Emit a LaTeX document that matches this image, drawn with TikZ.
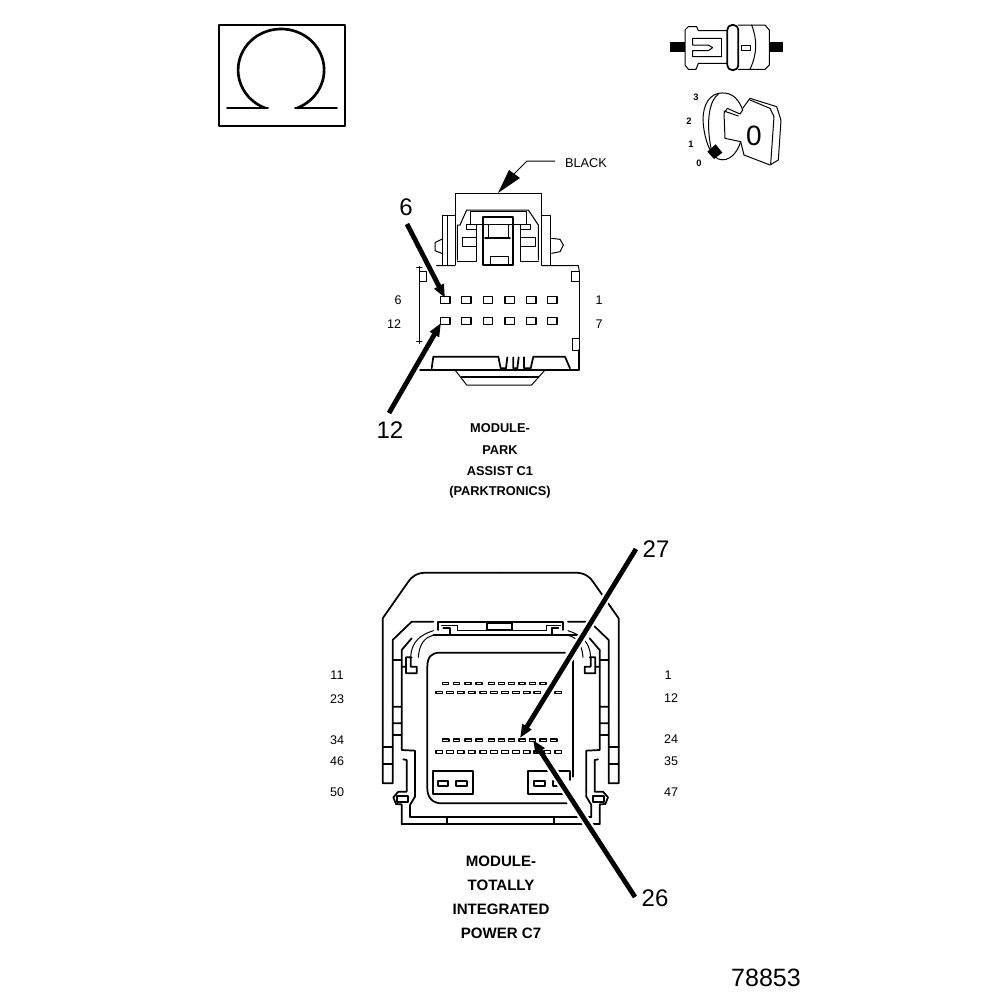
\documentclass[tikz,border=0pt]{standalone}
\usepackage{fontspec}
\setmainfont{Liberation Sans}
\usetikzlibrary{arrows.meta}
\tikzset{
 thinline/.style={line width=0.75pt},
 medline/.style={line width=1.3pt},
 thickline/.style={line width=2pt},
 lab/.style={inner sep=0pt,font=\fontsize{9.4}{11}\selectfont},
 biglab/.style={inner sep=0pt,font=\fontsize{18}{20}\selectfont},
 caplab/.style={inner sep=0pt,font=\fontsize{9.6}{11}\selectfont\bfseries},
 caplabb/.style={inner sep=0pt,font=\fontsize{11.3}{13}\selectfont\bfseries},
 tinylab/.style={inner sep=0pt,font=\fontsize{7}{8}\selectfont\bfseries},
 halo/.style={draw=white,line width=7pt,shorten >=14pt},
 pointer/.style={draw=black,line width=3.6pt,-{Triangle[length=10pt,width=7.5pt]}},
 pinbox/.style={draw=black,line width=1.1pt,fill=white},
 roundframe/.style={line cap=round,line join=round},
}
\begin{document}
\begin{tikzpicture}[x=0.75pt,y=-0.75pt]
\useasboundingbox (0,0) rectangle (1008,1000);

% ---------- Omega box
\begin{scope}[roundframe]
\draw[medline] (219,25) rectangle (345,126);
\draw[thickline] (265,108) arc[start angle=112,end angle=428,x radius=43,y radius=41];
\draw[medline] (227,108) -- (268,108) (295,108) -- (337,108);
\end{scope}

% ---------- Switch (zoom coordinates)
\begin{scope}[shift={(650,10)},x=.25pt,y=-.25pt,roundframe]
\fill (60,97) rectangle (105,127);
\fill (358,97) rectangle (400,127);
\draw[thinline] (232,62)--(145,62)--(140,50)--(115,50)--(105,60)--(105,165)--(115,178)--(138,178)--(145,160)--(232,160);
\draw[thinline] (215,85)--(128,85)--(128,105)--(175,105)--(188,113)--(175,122)--(128,122)--(128,140)--(215,140);
\draw[thinline] (215,85)--(215,140);
\draw[medline,rounded corners=3.5pt] (232,45) rectangle (265,180);
\draw[thinline] (265,45)--(345,45)--(358,60)--(358,165)--(345,178)--(265,178);
\draw[thinline] (305,45) .. controls (322,90) and (322,130) .. (300,178);
\draw[thinline] (275,105) rectangle (300,120);
% knob
\draw[thinline] (278,300) .. controls (262,255) and (235,245) .. (205,250) .. controls (170,258) and (155,300) .. (160,345) .. controls (165,390) and (180,435) .. (205,447) .. controls (235,458) and (262,430) .. (272,395);
\draw[thinline] (205,252) .. controls (180,270) and (165,330) .. (185,425);
\draw[thinline] (278,300)--(270,312)--(232,295)--(222,310)--(225,385)--(272,395);
\draw[thinline] (222,303)--(265,318);
\draw[thinline] (272,395)--(282,435)--(360,465)--(385,450)--(393,330)--(380,290)--(300,265)--(278,295);
\draw[thinline] (300,270)--(360,295)--(372,320)--(362,462);
\fill (172,425)--(197,403)--(217,428)--(192,447)--cycle;
\end{scope}
\node[inner sep=0pt,font=\fontsize{21}{22}\selectfont] (zeroBig) at (754,136) {0};
\node[tinylab] (k3) at (696,97) {3};
\node[tinylab] (k2) at (689,121) {2};
\node[tinylab] (k1) at (691,144) {1};
\node[tinylab] (k0) at (699,163) {0};

% ---------- Connector C1 (zoom coordinates)
\begin{scope}[shift={(370,150)},x=.25pt,y=-.25pt,roundframe]
\draw[thinline] (255,345)--(255,130)--(515,130)--(515,345);
\draw[thinline] (262,330)--(262,225)--(270,225)--(290,180)--(475,180)--(505,225)--(505,330);
\draw[thinline] (300,185) rectangle (470,222);
\draw[medline] (340,200) rectangle (430,345);
\draw[thinline] (355,222) rectangle (415,265);
\draw[medline] (345,265)--(420,265);
\draw[thinline] (360,345)--(360,320)--(415,320)--(415,345);
\draw[thinline] (290,222) rectangle (318,238);
\draw[thinline] (452,222) rectangle (482,238);
\draw[thinline] (278,262) rectangle (318,290);
\draw[thinline] (452,262) rectangle (495,290);
\draw[thinline] (318,238)--(318,335)--(262,335);
\draw[thinline] (452,238)--(452,335)--(505,335);
\draw[thinline] (232,345)--(232,197)--(255,197);
\draw[thinline] (218,345)--(218,197)--(232,197);
\draw[thinline] (517,197)--(540,197)--(540,345);
\draw[thinline] (215,268)--(195,278)--(195,302)--(215,310);
\draw[thinline] (545,265)--(570,268)--(580,285)--(570,305)--(545,310);
\draw[thinline] (200,347)--(255,347) (515,347)--(625,347)--(628,365);
\draw[thinline] (605,365) rectangle (628,395);
\draw[thinline] (628,395)--(628,565);
\draw[thinline] (608,565) rectangle (628,600);
\draw[medline] (628,600)--(628,660)--(150,660);
\draw[thinline] (148,350)--(148,580);
\draw[thinline] (140,352)--(156,352) (140,575)--(156,575);
\draw[thinline] (148,395)--(170,395)--(170,365)--(148,365);
\draw[medline] (185,655)--(190,620)--(385,620)--(392,655)--(408,655)--(412,622);
\draw[medline] (430,622)--(430,655)--(442,655)--(446,622);
\draw[medline] (462,622)--(462,655)--(482,655)--(490,620)--(585,620)--(600,655);
\draw[thinline] (255,660)--(290,705)--(485,705)--(525,660);
\draw[medline] (275,680)--(505,680);
\foreach \p in {212,275,340,405,470,533}{
 \draw[pinbox,line width=1pt] (\p,440) rectangle +(28,20);
 \draw[pinbox,line width=1pt] (\p,503) rectangle +(28,21);
}
\end{scope}
\node[biglab] (c1six) at (406,207) {6};
\node[biglab] (c1twelve) at (390,430) {12};
\node[lab] (l6) at (398,300) {6};
\node[lab] (l12) at (394,324) {12};
\node[lab] (l1) at (599,300) {1};
\node[lab] (l7) at (599,324) {7};
\node[lab,font=\fontsize{9.6}{11}\selectfont] (black) at (586,163) {BLACK};
\node[caplab] (a1) at (500,428) {MODULE-};
\node[caplab] (a2) at (500,450) {PARK};
\node[caplab] (a3) at (500,471) {ASSIST C1};
\node[caplab] (a4) at (500,492) {(PARKTRONICS)};

% ---------- Connector C7 (zoom coordinates)
\begin{scope}[shift={(370,560)},x=.25pt,y=-.25pt,roundframe]
\foreach \m in {0,1}{
\begin{scope}[xshift={\m*196pt},xscale={1-2*\m}]
\draw[medline] (392,38)--(170,38) .. controls (140,38) and (125,50) .. (115,65)--(38,175)--(38,670)--(68,670)--(68,240)--(125,185)--(190,185);
\draw[medline] (38,560)--(68,560);
\draw[medline] (68,612)--(38,612);
\draw[medline] (95,270)--(95,570)--(135,572)--(135,695) (68,440)--(95,440) (68,490)--(95,490) (68,525)--(95,525) (68,300)--(95,300);
\draw[medline] (95,270)--(125,235) (95,320)--(108,320)--(108,292)--(125,292) (108,320)--(108,340)--(140,340)--(140,320)--(122,320)--(122,292);
\draw[thinline] (122,290) .. controls (125,245) and (150,225) .. (190,212);
\draw[thinline] (145,292) .. controls (148,250) and (165,232) .. (190,226);
\draw[medline] (100,598)--(110,600)--(110,695)--(85,695)--(70,712)--(78,732)--(95,733)--(95,792);
\draw[medline] (135,695)--(135,710)--(120,735)--(120,770);
\draw[medline] (82,708) rectangle (115,725);
\draw[medline] (232,770)--(232,792);
\end{scope}}
\draw[medline] (95,792)--(689,792) (120,770)--(664,770);
\draw[medline] (190,225)--(640,225);
\draw[medline] (205,210)--(205,185)--(580,185)--(580,210);
\draw[thinline] (215,195)--(262,195)--(262,210)--(530,210)--(530,195)--(572,195);
\draw[medline] (220,205)--(240,205)--(240,225) (545,225)--(545,205)--(565,205);
\draw[medline] (350,190) rectangle (425,210);
\draw[medline] (172,320) .. controls (172,290) and (185,278) .. (210,278)--(585,278);
\draw[medline] (172,320)--(172,685) .. controls (172,715) and (190,730) .. (215,730)--(590,730);
\draw[medline] (610,300)--(610,650);
\foreach \p in {218,250,285,318,355,385,415,447,478,510,542}{
 \draw[pinbox] (\p,367) rectangle +(18,7);
 \draw[pinbox] (\p,537) rectangle +(19,7);
}
\foreach \p in {198,230,262,295,330,362,395,428,460,492,522,555}{
 \draw[pinbox] (\p,394) rectangle +(20,7);
 \draw[pinbox] (\p,572) rectangle +(20,8);
}
\draw[medline] (188,632) rectangle (310,703);
\draw[pinbox,line width=1.3pt] (205,663) rectangle (235,678);
\draw[pinbox,line width=1.3pt] (258,663) rectangle (290,678);
\draw[medline] (590,703)--(475,703)--(475,632)--(600,632)--(600,660);
\draw[pinbox,line width=1.3pt] (492,663) rectangle (525,678);
\draw[pinbox,line width=1.3pt] (548,663) rectangle (570,678);
\end{scope}

\node[biglab] (c7a) at (656,549) {27};
\node[biglab] (c7b) at (655,898) {26};
\node[lab] (r1) at (337,675) {11};
\node[lab] (r2) at (337,699) {23};
\node[lab] (r3) at (337,740) {34};
\node[lab] (r4) at (337,761) {46};
\node[lab] (r5) at (337,792) {50};
\node[lab] (s1) at (668,675) {1};
\node[lab] (s2) at (671,698) {12};
\node[lab] (s3) at (671,739) {24};
\node[lab] (s4) at (671,761) {35};
\node[lab] (s5) at (671,792) {47};
\node[caplabb] (b1) at (501,861) {MODULE-};
\node[caplabb] (b2) at (501,885) {TOTALLY};
\node[caplabb] (b3) at (501,909) {INTEGRATED};
\node[caplabb] (b4) at (501,933) {POWER C7};
\node[biglab,font=\fontsize{18.8}{20}\selectfont] (num) at (766,978) {78853};

% ---------- Pointers
\coordinate (tip6) at (445,298);
\coordinate (tail6) at (407,224);
\coordinate (tip12) at (441,323);
\coordinate (tail12) at (389,413);
\coordinate (tip27) at (520,738);
\coordinate (tail27) at (636,549);
\coordinate (tip26) at (533,740);
\coordinate (tail26) at (635,897);
\coordinate (tipB) at (498,193);
\coordinate (kneeB) at (527,161);
\coordinate (endB) at (555,161);
\draw[pointer] (tail6) -- (tip6);
\draw[pointer] (tail12) -- (tip12);
\draw[halo] (tail27) -- (tip27);
\draw[pointer] (tail27) -- (tip27);
\draw[halo] (tail26) -- (tip26);
\draw[pointer] (tail26) -- (tip26);
\draw[thinline] (endB) -- (kneeB) -- (514,174);
\fill (tipB) -- (509,170) -- (520,178) -- cycle;
\end{tikzpicture}
\end{document}
